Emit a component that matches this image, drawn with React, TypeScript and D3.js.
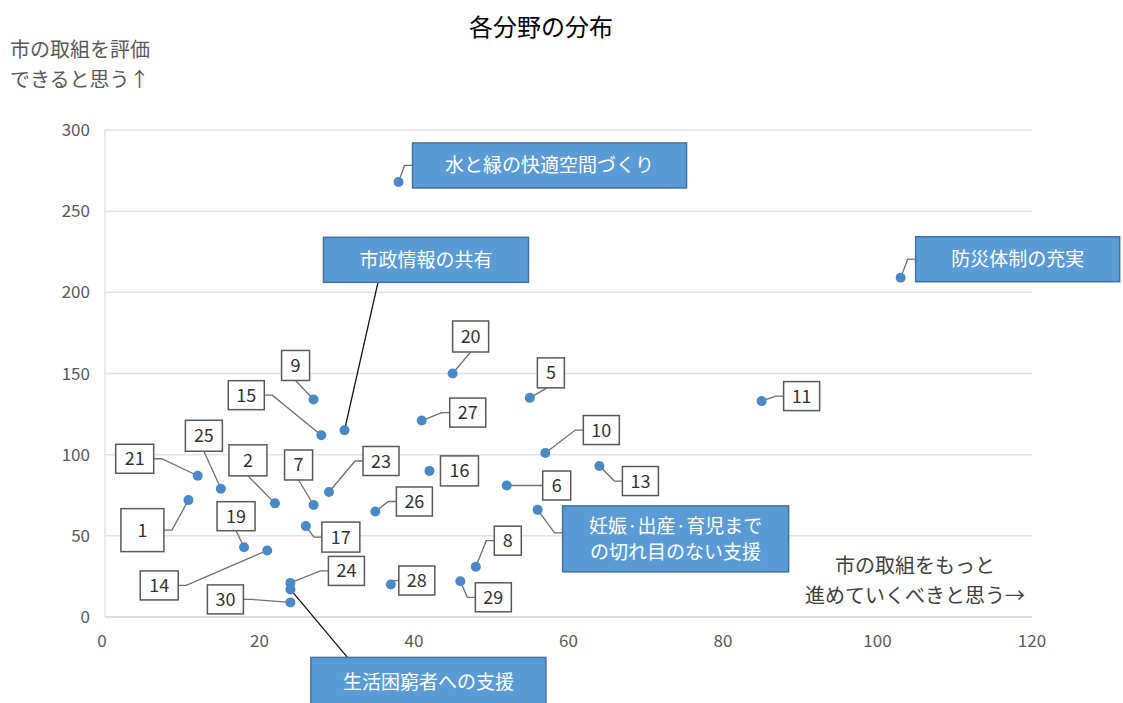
import React from "react";
import * as d3 from "d3";

// ---- data ----
const pointIds = ["1","2","5","6","7","8","9","10","11","13","14","15","16","17","19","20","21","23","24","25","26","27","28","29","30","水と緑の快適空間づくり","防災体制の充実","市政情報の共有","妊娠·出産·育児まで\nの切れ目のない支援","生活困窮者への支援"];
const xValues = [10.8,22,55,52,27,48,27,57,85,64,21,28,42,26,18,45,12,29,24,15,35,41,37,46,24,38,103,31,56,24];
const yValues = [72,70,135,81,69,31,134,101,133,93,41,112,90,56,43,150,87,77,21,79,65,121,20,22,9,268,209,115,66,17];
const xTicks = [0,20,40,60,80,100,120];
const yTicks = [0,50,100,150,200,250,300];

// ---- label layout (pixel offsets of the label box centre from its point) ----
type Lay = { dx: number; dy: number; w: number; h: number; side: string; a?: number; callout?: boolean; dark?: boolean };
const layout: Lay[] = [
  { dx: -46, dy: 30, w: 43, h: 43, side: "r" },
  { dx: -27, dy: -43, w: 38, h: 31, side: "b" },
  { dx: 21, dy: -25, w: 27, h: 30, side: "b", a: -4 },
  { dx: 50, dy: 0, w: 28, h: 29, side: "l" },
  { dx: -15, dy: -40, w: 28, h: 30, side: "b" },
  { dx: 32, dy: -26, w: 27, h: 29, side: "l" },
  { dx: -18, dy: -34, w: 28, h: 30, side: "b" },
  { dx: 56, dy: -23, w: 36, h: 29, side: "l" },
  { dx: 40, dy: -5, w: 36, h: 29, side: "l" },
  { dx: 41, dy: 15, w: 36, h: 29, side: "l" },
  { dx: -108, dy: 35, w: 38, h: 29, side: "r" },
  { dx: -75, dy: -40, w: 36, h: 29, side: "r" },
  { dx: 30, dy: 0, w: 38, h: 30, side: "none" },
  { dx: 35, dy: 11, w: 38, h: 30, side: "l" },
  { dx: -8, dy: -31, w: 38, h: 29, side: "b" },
  { dx: 18, dy: -37, w: 36, h: 31, side: "b" },
  { dx: -63, dy: -17, w: 38, h: 29, side: "r" },
  { dx: 52, dy: -31, w: 36, h: 29, side: "l" },
  { dx: 56, dy: -12, w: 36, h: 29, side: "l" },
  { dx: -17, dy: -53, w: 37, h: 31, side: "b" },
  { dx: 39, dy: -10, w: 36, h: 29, side: "l" },
  { dx: 46, dy: -8, w: 36, h: 29, side: "l" },
  { dx: 26, dy: -4, w: 36, h: 29, side: "l" },
  { dx: 33, dy: 16, w: 36, h: 29, side: "l" },
  { dx: -65, dy: -3, w: 36, h: 29, side: "r" },
  { dx: 151, dy: -16.5, w: 274, h: 45, side: "l", callout: true },
  { dx: 117, dy: -18.5, w: 204, h: 45, side: "l", callout: true },
  { dx: 81.5, dy: -170.5, w: 205, h: 45, side: "b", a: -48, callout: true, dark: true },
  { dx: 138, dy: 29, w: 226, h: 66, side: "l", a: -6, callout: true },
  { dx: 138, dy: 93, w: 235, h: 50, side: "t", a: -81, callout: true, dark: true },
];

const W = 1123, H = 703;
const FONT = "'Noto Sans CJK JP', 'Noto Sans', sans-serif";

export default function App() {
  const x = d3.scaleLinear().domain([0, 120]).range([105, 1032]);
  const y = d3.scaleLinear().domain([0, 300]).range([617, 130]);

  const items = pointIds.map((id, i) => {
    const px = x(xValues[i]);
    const py = y(yValues[i]);
    const L = layout[i];
    const cx = px + L.dx, cy = py + L.dy;
    const left = cx - L.w / 2, right = cx + L.w / 2, top = cy - L.h / 2, bottom = cy + L.h / 2;
    const a = L.a ?? 0;
    let path = "";
    if (L.side === "l") path = `M${px},${py}L${left - 8},${cy + a}L${left},${cy + a}`;
    else if (L.side === "r") path = `M${px},${py}L${right + 8},${cy + a}L${right},${cy + a}`;
    else if (L.side === "b") path = `M${px},${py}L${cx + a},${bottom}`;
    else if (L.side === "t") path = `M${px},${py}L${cx + a},${top}`;
    return { id, px, py, L, cx, cy, left, top, path };
  });

  return (
    <svg width={W} height={H} style={{ position: "absolute", left: 0, top: 0, background: "#fff" }} fontFamily={FONT}>
      <text x={541} y={36} textAnchor="middle" fontSize={24} fill="#000">各分野の分布</text>
      <text x={10} y={57} fontSize={20} fill="#595959">市の取組を評価</text>
      <text x={10} y={87} fontSize={20} fill="#595959">できると思う↑</text>

      {/* grid */}
      {yTicks.map((t) => (
        <line key={"g" + t} x1={105} x2={1032} y1={y(t)} y2={y(t)} stroke="#e3e3e3" strokeWidth={1.5} />
      ))}
      <line x1={105} x2={105} y1={y(300)} y2={y(0)} stroke="#e3e3e3" strokeWidth={1.5} />
      <line x1={105} x2={1032} y1={y(0)} y2={y(0)} stroke="#d9d9d9" strokeWidth={1.5} />

      {yTicks.map((t) => (
        <text key={"yt" + t} x={90} y={y(t) + 6} textAnchor="end" fontSize={17} fill="#595959">{t}</text>
      ))}
      {xTicks.map((t) => (
        <text key={"xt" + t} x={x(t) - (t === 0 ? 3 : 0)} y={647} textAnchor="middle" fontSize={17} fill="#595959">{t}</text>
      ))}

      <text x={915} y={573} textAnchor="middle" fontSize={20} fill="#404040">市の取組をもっと</text>
      <text x={915} y={603} textAnchor="middle" fontSize={20} fill="#404040">進めていくべきと思う→</text>

      {/* leader lines */}
      {items.map((it) =>
        it.path ? (
          <path key={"l" + it.id} d={it.path} fill="none" stroke={it.L.dark ? "#111" : "#6f6f6f"} strokeWidth={1.3} />
        ) : null
      )}

      {/* points */}
      {items.map((it) => (
        <circle key={"p" + it.id} cx={it.px} cy={it.py} r={5} fill="#4a89c8" />
      ))}

      {/* labels */}
      {items.map((it) => {
        const lines = it.id.split("\n");
        if (it.L.callout) {
          return (
            <g key={"b" + it.id}>
              <rect x={it.left} y={it.top} width={it.L.w} height={it.L.h} fill="#5b9bd5" stroke="#41719c" strokeWidth={1.5} />
              {lines.map((ln, k) => (
                <text key={k} x={it.cx} y={it.cy + 7 + (k - (lines.length - 1) / 2) * 26} textAnchor="middle" fontSize={19} fill="#fff">{ln}</text>
              ))}
            </g>
          );
        }
        return (
          <g key={"b" + it.id}>
            <rect x={it.left} y={it.top} width={it.L.w} height={it.L.h} fill="#fff" stroke="#595959" strokeWidth={1.5} />
            <text x={it.cx} y={it.cy + 6.5} textAnchor="middle" fontSize={18} fill="#333">{it.id}</text>
          </g>
        );
      })}
    </svg>
  );
}
